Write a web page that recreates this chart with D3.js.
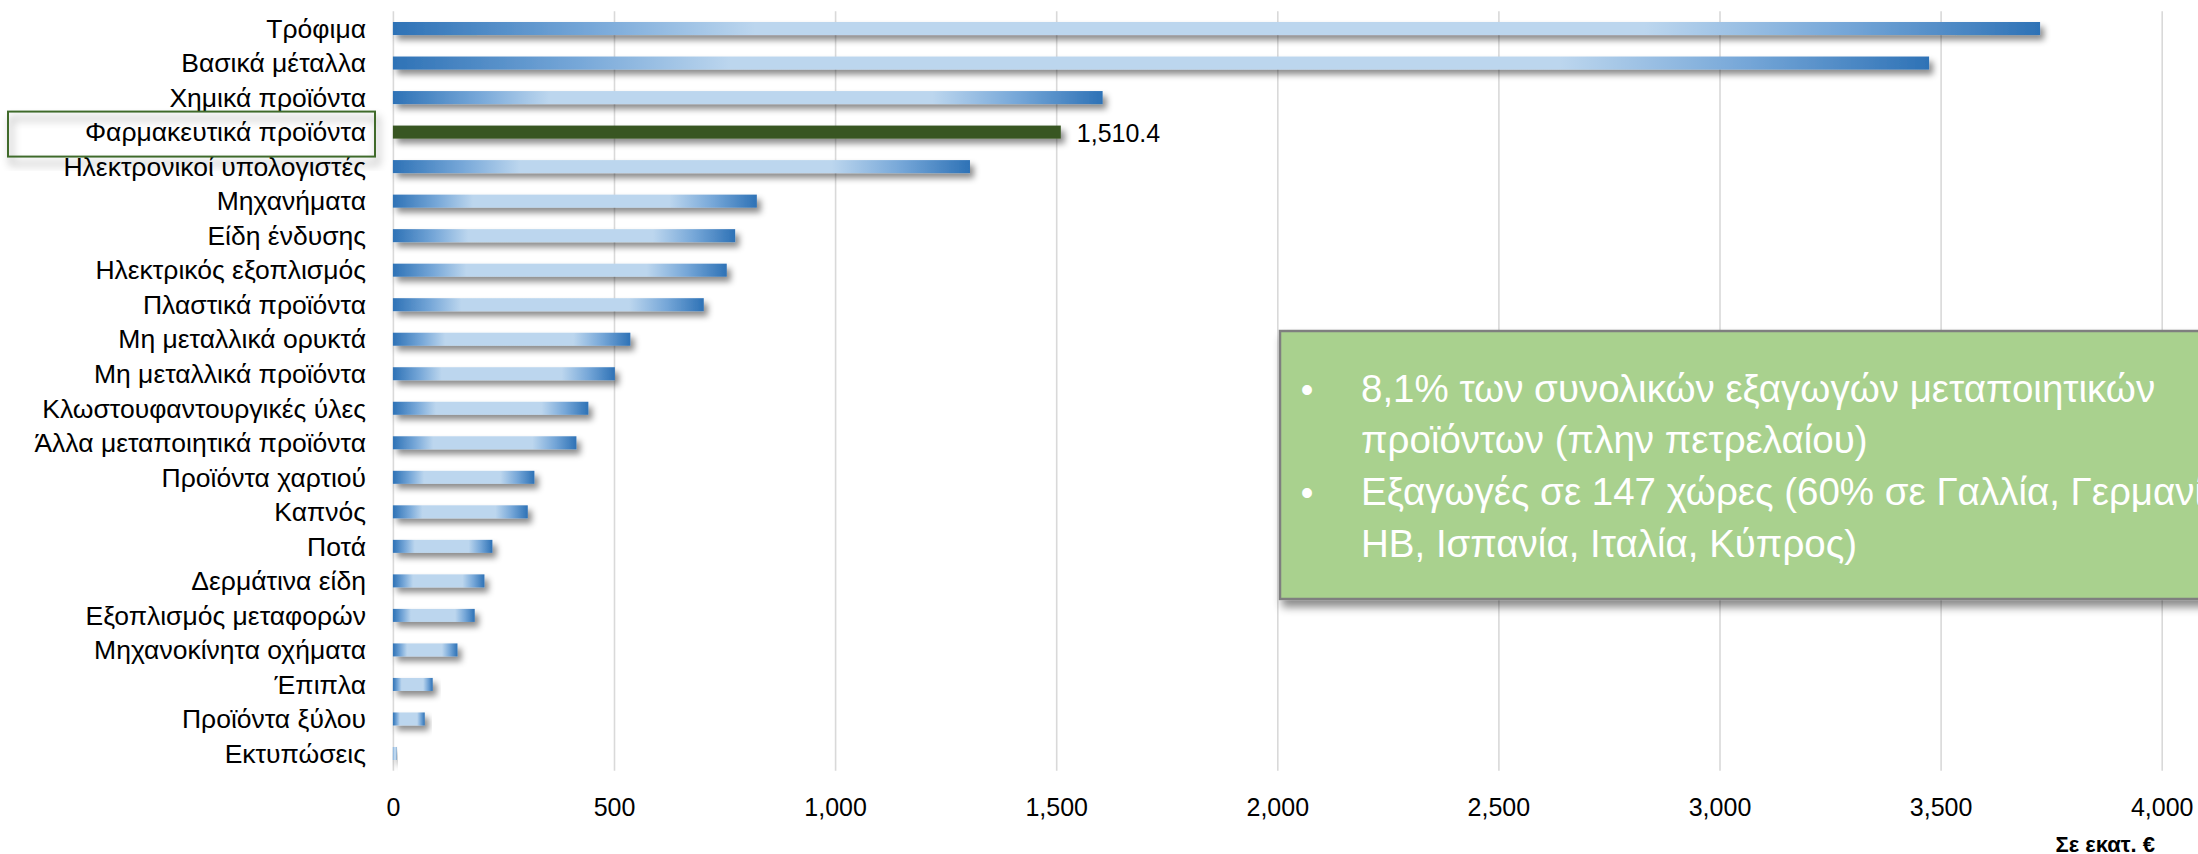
<!DOCTYPE html>
<html>
<head>
<meta charset="utf-8">
<script src="https://cdn.jsdelivr.net/npm/d3@7"></script>
<style>
  html, body { margin: 0; padding: 0; background: #ffffff; }
  svg { display: block; }
  text { font-family: "Liberation Sans", Arial, sans-serif; }
</style>
</head>
<body>
<svg id="chart" width="2198" height="854"></svg>
<script>
const categories = [
  "Τρόφιμα", "Βασικά μέταλλα", "Χημικά προϊόντα", "Φαρμακευτικά προϊόντα",
  "Ηλεκτρονικοί υπολογιστές", "Μηχανήματα", "Είδη ένδυσης", "Ηλεκτρικός εξοπλισμός",
  "Πλαστικά προϊόντα", "Μη μεταλλικά ορυκτά", "Μη μεταλλικά προϊόντα",
  "Κλωστουφαντουργικές ύλες", "Άλλα μεταποιητικά προϊόντα", "Προϊόντα χαρτιού",
  "Καπνός", "Ποτά", "Δερμάτινα είδη", "Εξοπλισμός μεταφορών",
  "Μηχανοκίνητα οχήματα", "Έπιπλα", "Προϊόντα ξύλου", "Εκτυπώσεις"
];
const values = [3725, 3474, 1605, 1510.4, 1305, 823, 774, 755, 703, 537, 502, 442, 415, 320, 305, 225, 207, 185, 146, 90, 72, 8];
const highlighted = "Φαρμακευτικά προϊόντα";
const xTicks = [0, 500, 1000, 1500, 2000, 2500, 3000, 3500, 4000];
const unitLabel = "Σε εκατ. €";
const noteLines = [
  { bullet: true,  text: "8,1% των συνολικών εξαγωγών μεταποιητικών" },
  { bullet: false, text: "προϊόντων (πλην πετρελαίου)" },
  { bullet: true,  text: "Εξαγωγές σε 147 χώρες (60% σε Γαλλία, Γερμανία," },
  { bullet: false, text: "ΗΒ, Ισπανία, Ιταλία, Κύπρος)" }
];

const svg = d3.select("#chart");
const plot = { left: 392.9, right: 2161.7, top: 11.25, bottom: 770.75 };

const x = d3.scaleLinear().domain([0, 4000]).range([plot.left, plot.right]);
const y = d3.scaleBand().domain(categories).range([plot.top, plot.bottom])
  .paddingInner(0.623).paddingOuter(0.3115);

const defs = svg.append("defs");
const grad = defs.append("linearGradient").attr("id", "barGrad")
  .attr("x1", "0%").attr("x2", "100%").attr("y1", "0%").attr("y2", "0%");
[[0, "#2e72b6"], [0.12, "#76a7d8"], [0.22, "#bcd6ee"], [0.76, "#bcd6ee"], [0.88, "#76a7d8"], [1, "#2e72b6"]]
  .forEach(([o, c]) => grad.append("stop").attr("offset", o).attr("stop-color", c));

const shadow = defs.append("filter").attr("id", "shadow")
  .attr("x", "-10%").attr("y", "-60%").attr("width", "130%").attr("height", "260%");
shadow.append("feDropShadow").attr("dx", 4).attr("dy", 5).attr("stdDeviation", 3)
  .attr("flood-color", "#000").attr("flood-opacity", 0.45);

const boxShadow = defs.append("filter").attr("id", "boxShadow")
  .attr("x", "-10%").attr("y", "-10%").attr("width", "130%").attr("height", "140%");
boxShadow.append("feDropShadow").attr("dx", 3).attr("dy", 7).attr("stdDeviation", 4)
  .attr("flood-color", "#000").attr("flood-opacity", 0.45);

// gridlines
const grid = svg.append("g").attr("transform", `translate(0,${plot.bottom})`)
  .call(d3.axisBottom(x).tickValues(xTicks).tickSize(-(plot.bottom - plot.top)).tickFormat(""));
grid.select(".domain").remove();
grid.selectAll("line").attr("stroke", "#d9d9d9").attr("stroke-width", 1.6);

// x axis labels
const xAxis = svg.append("g").attr("transform", `translate(0,${plot.bottom})`)
  .call(d3.axisBottom(x).tickValues(xTicks).tickSize(0).tickPadding(27).tickFormat(d3.format(",")));
xAxis.select(".domain").remove();
xAxis.selectAll("text").attr("font-size", 25).attr("fill", "#000")
  .attr("font-family", "Liberation Sans, Arial, sans-serif");

// bars
svg.append("g").selectAll("rect").data(categories).join("rect")
  .attr("x", x(0))
  .attr("y", d => y(d))
  .attr("width", (d, i) => x(values[i]) - x(0))
  .attr("height", y.bandwidth())
  .attr("fill", d => d === highlighted ? "#385723" : "url(#barGrad)")
  .attr("filter", "url(#shadow)");

// category labels
svg.append("g").selectAll("text").data(categories).join("text")
  .attr("x", 366)
  .attr("y", d => y(d) + y.bandwidth() / 2)
  .attr("dy", "0.35em")
  .attr("text-anchor", "end")
  .attr("font-size", 26.5)
  .attr("fill", "#000")
  .text(d => d);

// highlight box around label
const hy = y(highlighted) + y.bandwidth() / 2;
svg.append("rect")
  .attr("x", 8).attr("y", hy - 20.5).attr("width", 367).attr("height", 45)
  .attr("fill", "none").attr("stroke", "#3f6b2b").attr("stroke-width", 2)
  .attr("filter", "url(#boxShadow)");

// data label for highlighted bar
const hi = categories.indexOf(highlighted);
svg.append("text")
  .attr("x", x(values[hi]) + 16)
  .attr("y", hy)
  .attr("dy", "0.38em")
  .attr("font-size", 25)
  .attr("fill", "#000")
  .text(d3.format(",.1f")(values[hi]));

// unit label
svg.append("text")
  .attr("x", 2155).attr("y", 852)
  .attr("text-anchor", "end")
  .attr("font-size", 22)
  .attr("font-weight", "bold")
  .attr("fill", "#000")
  .text(unitLabel);

// annotation box
const note = svg.append("g");
note.append("rect")
  .attr("x", 1280).attr("y", 331).attr("width", 1000).attr("height", 268)
  .attr("fill", "#a9d18e").attr("stroke", "#7f7f7f").attr("stroke-width", 2.5)
  .attr("filter", "url(#boxShadow)");
noteLines.forEach((ln, i) => {
  const by = 401.7 + i * 51.7;
  if (ln.bullet) {
    note.append("text").attr("x", 1307).attr("y", by).attr("text-anchor", "middle")
      .attr("font-size", 36).attr("fill", "#fff").text("•");
  }
  note.append("text").attr("x", 1361).attr("y", by)
    .attr("font-size", 38.5).attr("fill", "#fff").text(ln.text);
});
</script>
</body>
</html>
